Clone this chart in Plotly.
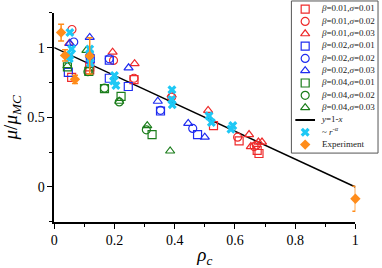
import plotly.graph_objects as go

# ---------------- data ----------------
rs_x = [0.058, 0.118, 0.118, 0.265, 0.529, 0.614, 0.674, 0.68]
rs_y = [0.787, 0.862, 0.84, 0.77, 0.44, 0.33, 0.263, 0.24]
rc_x = [0.059, 0.197, 0.265, 0.39, 0.609, 0.664, 0.671]
rc_y = [1.13, 0.908, 0.78, 0.645, 0.357, 0.29, 0.30]
rt_x = [0.05, 0.194, 0.267, 0.39, 0.511, 0.647, 0.678, 0.69, 0.653]
rt_y = [1.03, 0.967, 0.885, 0.66, 0.549, 0.376, 0.322, 0.322, 0.29]
bs_x = [0.047, 0.12, 0.183, 0.183, 0.246, 0.353, 0.476]
bs_y = [0.822, 0.92, 0.78, 0.91, 0.721, 0.545, 0.375]
bc_x = [0.065, 0.118, 0.183, 0.353, 0.46]
bc_y = [1.04, 0.94, 0.92, 0.55, 0.42]
bt_x = [0.052, 0.118, 0.247, 0.344, 0.445, 0.5]
bt_y = [1.03, 1.073, 0.855, 0.615, 0.456, 0.357]
gs_x = [0.044, 0.115, 0.167, 0.222, 0.325]
gs_y = [0.862, 0.83, 0.705, 0.65, 0.376]
gc_x = [0.112, 0.167, 0.216, 0.306]
gc_y = [0.827, 0.709, 0.61, 0.41]
gt_x = [0.044, 0.107, 0.216, 0.309, 0.385]
gt_y = [0.87, 0.98, 0.615, 0.44, 0.258]
pl_x = [0.052, 0.058, 0.052, 0.05, 0.118, 0.118, 0.12, 0.2, 0.205, 0.197,
        0.391, 0.39, 0.392, 0.514, 0.522, 0.593, 0.587]
pl_y = [1.108, 0.99, 0.944, 0.92, 0.99, 0.95, 0.89, 0.80, 0.728, 0.76,
        0.697, 0.627, 0.59, 0.51, 0.463, 0.44, 0.415]
ex_x = [0.023, 0.036, 0.069, 0.118, 1.0]
ex_y = [1.108, 0.944, 0.772, 0.94, -0.085]
ex_err = [0.06, 0.04, 0.03, 0.13, 0.09]
line_x = [0, 1]
line_y = [1, 0]

legend_labels = ["<i>β</i>=0.01,<i>σ</i>=0.01", "<i>β</i>=0.01,<i>σ</i>=0.02",
                 "<i>β</i>=0.01,<i>σ</i>=0.03", "<i>β</i>=0.02,<i>σ</i>=0.01",
                 "<i>β</i>=0.02,<i>σ</i>=0.02", "<i>β</i>=0.02,<i>σ</i>=0.03",
                 "<i>β</i>=0.04,<i>σ</i>=0.01", "<i>β</i>=0.04,<i>σ</i>=0.02",
                 "<i>β</i>=0.04,<i>σ</i>=0.03", "<i>y</i>=1-<i>x</i>",
                 "~ <i>r</i><sup>-<i>α</i></sup>", "Experiment"]

RED, BLUE, GREEN, CYAN, ORANGE = "#ee2b2b", "#1f2cf0", "#1b7d1b", "#1ec8f5", "#ff8c1a"
FONT = "Liberation Serif"

W, H = 382, 268
L, R, T, B = 52, 358, 13, 226

fig = go.Figure()

series = [
    (rs_x, rs_y, "square-open", RED),
    (rc_x, rc_y, "circle-open", RED),
    (rt_x, rt_y, "triangle-up-open", RED),
    (bs_x, bs_y, "square-open", BLUE),
    (bc_x, bc_y, "circle-open", BLUE),
    (bt_x, bt_y, "triangle-up-open", BLUE),
    (gs_x, gs_y, "square-open", GREEN),
    (gc_x, gc_y, "circle-open", GREEN),
    (gt_x, gt_y, "triangle-up-open", GREEN),
]

fig.add_trace(go.Scatter(x=line_x, y=line_y, mode="lines",
                         line=dict(color="black", width=1.5), showlegend=False))
for xs, ys, sym, col in series:
    fig.add_trace(go.Scatter(x=xs, y=ys, mode="markers", showlegend=False,
                             marker=dict(symbol=sym, size=8, color=col,
                                         line=dict(color=col, width=1.2))))
fig.add_trace(go.Scatter(x=pl_x, y=pl_y, mode="markers", showlegend=False,
                         marker=dict(symbol="x", size=8, color=CYAN,
                                     line=dict(width=0))))
fig.add_trace(go.Scatter(x=ex_x, y=ex_y, mode="markers", showlegend=False, cliponaxis=False,
                         error_y=dict(type="data", array=ex_err, color=ORANGE,
                                      thickness=1.5, width=3),
                         marker=dict(symbol="diamond", size=8, color=ORANGE)))

# ---------- manual legend in its own axes (units = page pixels) ----------
n = len(legend_labels)
ly0, lstep = 9.3, 12.55
ys_leg = [ly0 + lstep * i for i in range(n)]
mx = 307
for i, (xs, ys, sym, col) in enumerate(series):
    fig.add_trace(go.Scatter(x=[mx], y=[ys_leg[i]], mode="markers", xaxis="x2", yaxis="y2",
                             showlegend=False, hoverinfo="skip",
                             marker=dict(symbol=sym, size=8, color=col,
                                         line=dict(color=col, width=1.2))))
fig.add_trace(go.Scatter(x=[297, 317], y=[ys_leg[9]] * 2, mode="lines", xaxis="x2", yaxis="y2",
                         showlegend=False, hoverinfo="skip",
                         line=dict(color="black", width=2)))
fig.add_trace(go.Scatter(x=[mx], y=[ys_leg[10]], mode="markers", xaxis="x2", yaxis="y2",
                         showlegend=False, hoverinfo="skip",
                         marker=dict(symbol="x", size=8, color=CYAN, line=dict(width=0))))
fig.add_trace(go.Scatter(x=[mx], y=[ys_leg[11]], mode="markers", xaxis="x2", yaxis="y2",
                         showlegend=False, hoverinfo="skip",
                         marker=dict(symbol="diamond", size=8, color=ORANGE)))
fig.add_trace(go.Scatter(x=[324] * n, y=ys_leg, mode="text", xaxis="x2", yaxis="y2",
                         text=legend_labels, textposition="middle right",
                         textfont=dict(family=FONT, size=9, color="#222"),
                         showlegend=False, hoverinfo="skip", cliponaxis=False))

LX0, LX1, LY0, LY1 = 293, 381, 1, 156
fig.add_shape(type="rect", xref="paper", yref="paper",
              x0=LX0 / W, x1=LX1 / W, y0=1 - LY1 / H, y1=1 - LY0 / H,
              line=dict(color="#555", width=1), fillcolor="white", layer="below")

axfont = dict(family=FONT, size=14, color="black")
titlefont = dict(family=FONT, size=19, color="black")
fig.update_layout(
    width=W, height=H, margin=dict(l=0, r=0, t=0, b=0),
    paper_bgcolor="white", plot_bgcolor="rgba(0,0,0,0)",
    font=dict(family=FONT, color="black"),
    xaxis=dict(domain=[L / W, R / W], range=[0, 1], showgrid=False, zeroline=False,
               showline=True, linecolor="black", linewidth=1.5,
               ticks="outside", ticklen=5, tickwidth=1.2, tickcolor="black",
               tickvals=[0, 0.2, 0.4, 0.6, 0.8, 1], ticktext=["0", "0.2", "0.4", "0.6", "0.8", "1"],
               tickfont=axfont,
               minor=dict(tickvals=[0.1, 0.3, 0.5, 0.7, 0.9], ticks="outside", ticklen=3,
                          tickwidth=1.2, tickcolor="black"),
               title=dict(text="<i>ρ</i><sub><i>c</i></sub>", font=titlefont, standoff=6),
               anchor="y"),
    yaxis=dict(domain=[1 - B / H, 1 - T / H], range=[-0.25, 1.25], showgrid=False, zeroline=False,
               showline=True, linecolor="black", linewidth=1.5,
               ticks="outside", ticklen=5, tickwidth=1.2, tickcolor="black",
               tickvals=[0, 0.5, 1], ticktext=["0", "0.5", "1"], tickfont=axfont,
               minor=dict(tickvals=[-0.25, 0.25, 0.75, 1.25], ticks="outside", ticklen=3,
                          tickwidth=1.2, tickcolor="black"),
               title=dict(text="<i>μ</i>/<i>μ</i><sub><i>MC</i></sub>", font=titlefont,
                          standoff=4),
               anchor="x"),
    xaxis2=dict(domain=[LX0 / W, LX1 / W], range=[LX0, LX1], visible=False,
                anchor="y2", fixedrange=True),
    yaxis2=dict(domain=[1 - LY1 / H, 1 - LY0 / H], range=[LY1, LY0], visible=False,
                anchor="x2", fixedrange=True),
    showlegend=False,
)

fig.write_html("out.html", config={"displayModeBar": False},
               post_script="document.body.style.margin='0';document.body.style.overflow='hidden';")
